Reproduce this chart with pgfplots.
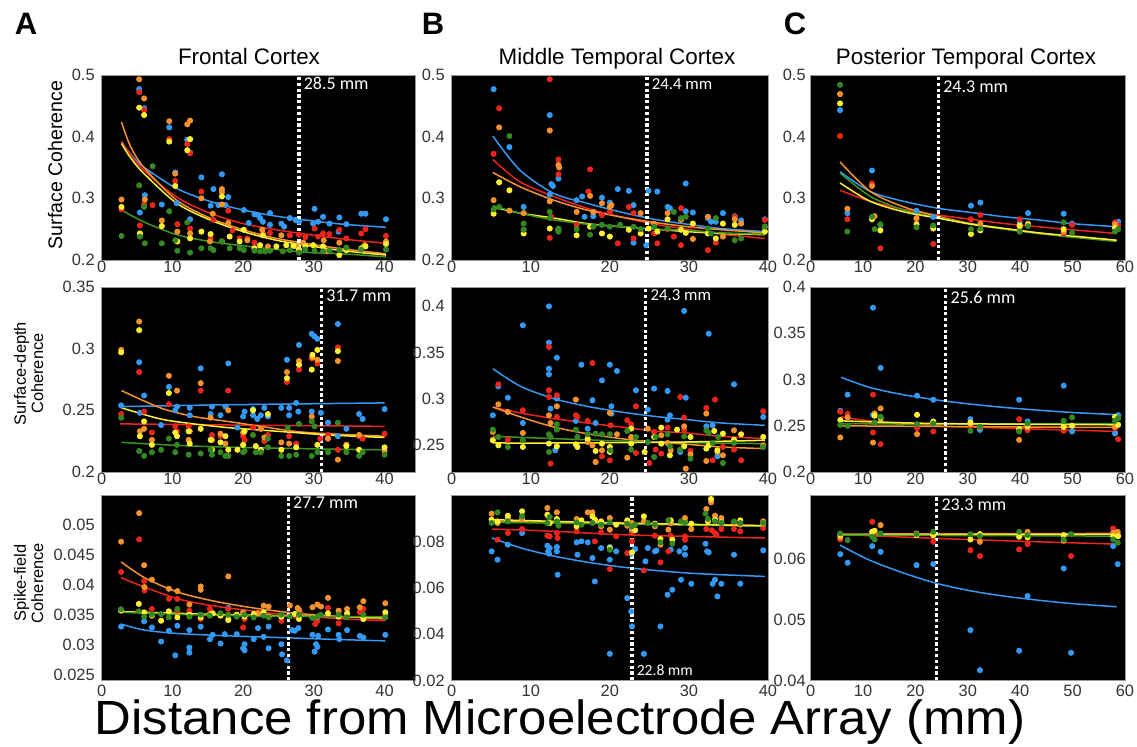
\documentclass[border=0pt]{standalone}
\usepackage{fontspec}
\setmainfont{Liberation Sans}
\newfontfamily\carl{Carlito}
\usepackage{pgfplots}
\pgfplotsset{compat=1.18}
\definecolor{cB}{RGB}{51,153,245}
\definecolor{cR}{RGB}{236,36,30}
\definecolor{cO}{RGB}{245,146,45}
\definecolor{cY}{RGB}{255,240,50}
\definecolor{cG}{RGB}{52,135,34}
\definecolor{cGl}{RGB}{62,150,30}
\pgfplotsset{
  panel/.style={scale only axis, anchor=south west,
    axis background/.style={fill=black},
    axis line style={black!40, line width=0.4pt},
    major tick length=0pt, tick style={draw=none},
    ticklabel style={font=\fontsize{8.2}{9}\selectfont, text=black!80},
    /pgf/number format/assume math mode=true,
    scaled ticks=false,
    yticklabel style={/pgf/number format/fixed, /pgf/number format/precision=3},
    xticklabel style={yshift=1pt, inner sep=1.5pt},
    xmin=0, enlargelimits=false},
  colC/.style={yticklabel style={xshift=1pt}},
  rowthree/.style={xticklabel style={yshift=-1.5pt}},
  P/.style={only marks, mark=*, mark size=1.3pt, color=#1, mark options={draw=none}},
  F/.style={no markers, smooth, line width=0.75pt, color=#1},
  D/.style={white, line width=1.6pt, dash pattern=on 1.6pt off 1.3pt},
}
\tikzset{L/.style={anchor=base west, inner sep=0pt, xshift=2.2pt, text=white, font=\carl\fontsize{9}{10}\selectfont}}
\begin{document}
\begin{tikzpicture}
\useasboundingbox (0,0) rectangle (568.5pt,373.5pt);
% ---------------- letters and titles
\node[anchor=base, font=\fontsize{15.5}{16}\selectfont\bfseries] at (13pt,356pt) {A};
\node[anchor=base, font=\fontsize{15.5}{16}\selectfont\bfseries] at (216.5pt,356pt) {B};
\node[anchor=base, font=\fontsize{15.5}{16}\selectfont\bfseries] at (397.5pt,356pt) {C};
\node[anchor=base, font=\fontsize{11.2}{13}\selectfont] at (124.5pt,341pt) {Frontal Cortex};
\node[anchor=base, font=\fontsize{11.2}{13}\selectfont] at (308.5pt,341pt) {Middle Temporal Cortex};
\node[anchor=base, font=\fontsize{11.2}{13}\selectfont] at (483pt,341pt) {Posterior Temporal Cortex};
\node[rotate=90, font=\fontsize{9.8}{11}\selectfont] at (27.5pt,291pt) {Surface Coherence};
\node[rotate=90, align=center, font=\fontsize{8.2}{8.6}\selectfont] at (14.3pt,186.7pt) {Surface-depth\\Coherence};
\node[rotate=90, align=center, font=\fontsize{8.2}{8.6}\selectfont] at (14.3pt,82pt) {Spike-field\\Coherence};
\node[anchor=base, inner sep=0pt, xscale=1.06, transform shape, font=\fontsize{24}{26}\selectfont] at (280pt,6pt) {Distance from Microelectrode Array (mm)};

% ================= A1
\begin{axis}[panel, at={(50.85pt,243.5pt)}, width=156.65pt, height=92.5pt, xmax=44.3, ymin=0.2, ymax=0.5, xtick={0,10,20,30,40}, ytick={0.2,0.3,0.4,0.5}]
\addplot[P=cB] coordinates {(5.3,0.477) (6.0,0.446) (9.55,0.415) (12.1,0.395) (12.5,0.374) (10.4,0.342) (14.1,0.334) (15.8,0.315) (17.0,0.339) (17.9,0.302) (5.4,0.277) (6.1,0.305) (8.5,0.29) (10.6,0.292) (12.5,0.266) (15.4,0.288) (16.5,0.289) (17.5,0.289) (20.1,0.281) (21.6,0.274) (22.1,0.273) (22.4,0.268) (23.8,0.276) (23.8,0.257) (25.4,0.259) (25.8,0.254) (26.6,0.268) (27.4,0.265) (27.9,0.262) (30.1,0.283) (29.9,0.259) (30.6,0.262) (31.3,0.27) (32.2,0.259) (33.6,0.269) (33.5,0.246) (34.6,0.258) (36.7,0.275) (37.3,0.275) (40.2,0.266) (20.8,0.26) (22.8,0.262)};
\addplot[P=cR] coordinates {(2.8,0.282) (5.3,0.472) (6.0,0.443) (5.4,0.256) (7.2,0.289) (9.55,0.396) (10.4,0.328) (10.7,0.258) (12.1,0.388) (12.5,0.373) (12.5,0.251) (14.1,0.311) (15.4,0.235) (15.8,0.265) (17.9,0.28) (20.6,0.235) (21.6,0.228) (22.8,0.243) (23.8,0.244) (26.6,0.24) (27.9,0.241) (28.8,0.237) (30.1,0.251) (30.6,0.238) (31.3,0.243) (32.2,0.242) (33.6,0.249) (34.6,0.235) (36.7,0.243) (37.3,0.25) (40.2,0.239) (19.5,0.235) (18.5,0.248) (6.0,0.29)};
\addplot[P=cO] coordinates {(2.8,0.298) (5.3,0.493) (6.0,0.462) (9.55,0.425) (12.1,0.42) (12.5,0.426) (10.4,0.34) (8.5,0.264) (10.7,0.246) (12.5,0.243) (14.1,0.30) (17.0,0.315) (17.0,0.29) (17.0,0.31) (15.7,0.275) (17.9,0.26) (20.6,0.232) (22.7,0.249) (25.4,0.24) (28.5,0.228) (31.4,0.232) (33.6,0.228) (37.2,0.224) (40.2,0.23) (6.1,0.298) (5.4,0.24) (15.3,0.23) (23.5,0.222) (27.5,0.222) (31.9,0.214) (34.6,0.218)};
\addplot[P=cY] coordinates {(2.8,0.286) (5.3,0.447) (6.0,0.435) (5.4,0.243) (8.5,0.255) (9.55,0.392) (10.4,0.32) (10.7,0.23) (12.1,0.378) (12.5,0.396) (12.5,0.235) (14.1,0.246) (15.4,0.242) (17.0,0.303) (17.0,0.23) (18.1,0.238) (19.5,0.23) (20.1,0.249) (21.6,0.219) (22.4,0.224) (22.8,0.24) (24.7,0.222) (26.1,0.224) (27.1,0.223) (27.9,0.217) (28.8,0.222) (29.9,0.224) (31.3,0.222) (33.6,0.208) (34.6,0.216) (36.7,0.219) (37.3,0.222) (40.2,0.226)};
\addplot[P=cG] coordinates {(2.8,0.239) (5.3,0.321) (5.4,0.238) (6.1,0.227) (6.0,0.286) (7.2,0.352) (8.5,0.227) (9.55,0.279) (10.4,0.232) (10.7,0.215) (12.1,0.261) (12.5,0.212) (14.1,0.219) (15.4,0.219) (15.8,0.216) (17.0,0.23) (18.1,0.219) (19.5,0.219) (20.1,0.216) (21.6,0.215) (22.4,0.214) (23.1,0.214) (23.8,0.215) (25.6,0.214) (26.6,0.216) (27.9,0.212) (28.8,0.217) (30.1,0.215) (31.3,0.214) (32.2,0.215) (33.6,0.216) (34.6,0.22) (36.7,0.217) (40.2,0.217)};
\addplot[F=cB] coordinates {(2.8,0.392) (4,0.373) (5.9,0.351) (10.6,0.316) (15.3,0.295) (20,0.281) (24.7,0.271) (29.4,0.264) (34.1,0.258) (40.2,0.253)};
\addplot[F=cR] coordinates {(2.8,0.392) (4,0.372) (5.9,0.346) (10.6,0.302) (15.3,0.276) (20,0.259) (24.7,0.249) (29.4,0.241) (34.1,0.234) (40.2,0.227)};
\addplot[F=cO] coordinates {(2.8,0.424) (4,0.386) (5.9,0.351) (10.6,0.297) (15.3,0.268) (20,0.249) (24.7,0.235) (29.4,0.226) (34.1,0.218) (40.2,0.21)};
\addplot[F=cY] coordinates {(2.8,0.389) (4,0.367) (5.9,0.341) (10.6,0.292) (15.3,0.265) (20,0.246) (24.7,0.232) (29.4,0.223) (34.1,0.215) (40.2,0.208)};
\addplot[F=cGl] coordinates {(2.8,0.281) (5.9,0.262) (10.6,0.241) (15.3,0.23) (20,0.223) (24.7,0.217) (29.4,0.212) (34.1,0.21) (40.2,0.205)};
\addplot[D] coordinates {(27.9,0.2) (27.9,0.5)};
\node[L] at (axis cs:27.9,0.4765) {28.5 mm};
\end{axis}

% ================= B1
\begin{axis}[panel, at={(225.85pt,243.5pt)}, width=158.15pt, height=92.5pt, xmax=40, ymin=0.2, ymax=0.5, xtick={0,10,20,30,40}, ytick={0.2,0.3,0.4,0.5}]
\addplot[P=cB] coordinates {(5.3,0.477) (7.3,0.383) (9.1,0.286) (12.4,0.435) (12.4,0.306) (12.6,0.323) (13.5,0.332) (15.8,0.297) (16.5,0.303) (17.9,0.271) (19.0,0.301) (20.0,0.293) (21.0,0.315) (22.4,0.312) (23.0,0.289) (23.0,0.228) (24.6,0.224) (24.9,0.312) (26.0,0.311) (27.3,0.286) (27.6,0.284) (29.6,0.324) (29.6,0.279) (30.5,0.277) (32.4,0.268) (32.8,0.262) (33.4,0.262) (34.3,0.276) (35.8,0.271) (36.6,0.264) (39.6,0.266) (16.8,0.27) (12.8,0.32)};
\addplot[P=cR] coordinates {(5.3,0.372) (6.0,0.446) (12.4,0.493) (12.4,0.236) (13.5,0.363) (13.5,0.339) (17.5,0.347) (17.3,0.311) (19.0,0.273) (20.0,0.278) (21.0,0.227) (22.4,0.286) (23.0,0.276) (23.0,0.235) (25.6,0.243) (26.0,0.227) (28.1,0.238) (29.0,0.284) (29.0,0.224) (30.5,0.257) (32.4,0.216) (33.4,0.228) (35.8,0.27) (39.6,0.265) (9.1,0.249) (15.8,0.257) (12.6,0.27) (27.3,0.25)};
\addplot[P=cO] coordinates {(5.3,0.297) (6.0,0.415) (7.3,0.28) (9.1,0.276) (12.4,0.41) (12.4,0.295) (13.5,0.354) (13.6,0.35) (15.8,0.278) (17.5,0.304) (17.9,0.278) (19.0,0.292) (20.0,0.286) (20.2,0.289) (23.9,0.276) (25.6,0.259) (27.3,0.276) (29.0,0.265) (30.5,0.234) (32.4,0.27) (34.3,0.238) (35.8,0.266) (36.6,0.259) (39.6,0.254)};
\addplot[P=cY] coordinates {(5.3,0.275) (6.0,0.326) (7.3,0.313) (9.1,0.243) (12.4,0.251) (13.5,0.249) (15.8,0.24) (17.5,0.254) (19.0,0.243) (20.0,0.238) (22.4,0.249) (23.9,0.243) (24.9,0.251) (26.0,0.246) (27.3,0.266) (29.0,0.249) (29.6,0.244) (30.5,0.259) (32.4,0.243) (33.4,0.235) (34.3,0.259) (35.8,0.257) (39.6,0.246)};
\addplot[P=cG] coordinates {(5.3,0.282) (6.0,0.286) (7.3,0.401) (9.1,0.259) (9.1,0.249) (12.4,0.278) (12.4,0.268) (13.5,0.251) (13.5,0.246) (15.8,0.25) (17.5,0.241) (17.9,0.254) (19.0,0.257) (20.0,0.254) (21.3,0.257) (23.0,0.254) (23.9,0.25) (25.6,0.254) (27.3,0.251) (28.1,0.278) (29.0,0.268) (29.6,0.27) (32.4,0.251) (32.8,0.243) (33.4,0.268) (35.8,0.232) (36.6,0.235) (39.6,0.254)};
\addplot[F=cB] coordinates {(5.2,0.401) (8.6,0.346) (12.9,0.308) (17.1,0.292) (21.3,0.278) (25.6,0.266) (29.8,0.258) (34.1,0.251) (39.6,0.246)};
\addplot[F=cR] coordinates {(5.2,0.363) (8.6,0.327) (12.9,0.303) (17.1,0.284) (21.3,0.27) (25.6,0.258) (29.8,0.25) (34.1,0.242) (39.6,0.235)};
\addplot[F=cO] coordinates {(5.2,0.342) (8.6,0.319) (12.9,0.297) (17.1,0.281) (21.3,0.27) (25.6,0.261) (29.8,0.254) (34.1,0.249) (39.6,0.244)};
\addplot[F=cY] coordinates {(5.2,0.286) (8.6,0.276) (12.9,0.268) (17.1,0.259) (21.3,0.254) (25.6,0.25) (29.8,0.246) (34.1,0.243) (39.6,0.241)};
\addplot[F=cGl] coordinates {(5.2,0.288) (8.6,0.276) (12.9,0.265) (17.1,0.258) (21.3,0.254) (25.6,0.25) (29.8,0.248) (34.1,0.244) (39.6,0.242)};
\addplot[D] coordinates {(24.7,0.2) (24.7,0.5)};
\node[L, font=\carl\fontsize{8.4}{10}\selectfont] at (axis cs:24.7,0.4765) {24.4 mm};
\end{axis}

% ================= C1
\begin{axis}[panel, colC, at={(405.35pt,243.5pt)}, width=157.15pt, height=92.5pt, xmax=60, ymin=0.2, ymax=0.5, xtick={0,10,20,30,40,50,60}, ytick={0.2,0.3,0.4,0.5}]
\addplot[P=cB] coordinates {(5.6,0.443) (7.0,0.276) (11.7,0.345) (13.3,0.257) (20.2,0.28) (23.4,0.27) (30.6,0.288) (32.4,0.293) (39.9,0.261) (41.5,0.276) (48.3,0.275) (49.9,0.259) (58.7,0.262)};
\addplot[P=cR] coordinates {(5.6,0.401) (7.0,0.266) (11.7,0.324) (13.3,0.219) (20.2,0.266) (23.4,0.226) (30.6,0.266) (32.4,0.273) (39.9,0.266) (41.5,0.258) (48.3,0.243) (49.9,0.257) (58.1,0.261) (58.7,0.256)};
\addplot[P=cO] coordinates {(5.6,0.469) (7.0,0.283) (11.7,0.32) (12.2,0.271) (20.2,0.268) (23.4,0.254) (32.4,0.259) (39.9,0.254) (41.5,0.259) (48.3,0.246) (58.1,0.258)};
\addplot[P=cY] coordinates {(5.6,0.454) (11.7,0.266) (13.3,0.248) (20.2,0.258) (23.4,0.251) (30.6,0.242) (32.4,0.248) (39.9,0.256) (41.5,0.257) (48.3,0.25) (58.1,0.252)};
\addplot[P=cG] coordinates {(5.6,0.484) (7.0,0.246) (11.7,0.27) (12.2,0.25) (13.3,0.258) (20.2,0.253) (23.4,0.256) (30.6,0.25) (32.4,0.251) (39.9,0.246) (41.5,0.255) (48.3,0.261) (49.9,0.244) (58.1,0.246) (58.7,0.25)};
\addplot[F=cB] coordinates {(5.6,0.343) (11.4,0.311) (17.8,0.295) (24.2,0.284) (30.6,0.277) (37,0.27) (43.4,0.265) (49.8,0.259) (58.4,0.254)};
\addplot[F=cR] coordinates {(5.6,0.313) (11.4,0.295) (17.8,0.282) (24.2,0.273) (30.6,0.266) (37,0.259) (43.4,0.254) (49.8,0.249) (58.4,0.243)};
\addplot[F=cO] coordinates {(5.6,0.359) (11.4,0.311) (17.8,0.286) (24.2,0.271) (30.6,0.259) (37,0.251) (43.4,0.244) (49.8,0.238) (58.4,0.232)};
\addplot[F=cGl] coordinates {(5.6,0.341) (11.4,0.303) (17.8,0.281) (24.2,0.269) (30.6,0.258) (37,0.25) (43.4,0.243) (49.8,0.237) (58.4,0.23)};
\addplot[F=cY] coordinates {(5.6,0.325) (11.4,0.295) (17.8,0.278) (24.2,0.268) (30.6,0.258) (37,0.251) (43.4,0.244) (49.8,0.239) (58.4,0.232)};
\addplot[D] coordinates {(24.4,0.2) (24.4,0.5)};
\node[L] at (axis cs:24.4,0.472) {24.3 mm};
\end{axis}

% ================= A2
\begin{axis}[panel, at={(50.85pt,137.5pt)}, width=156.65pt, height=92.5pt, xmax=44.3, ymin=0.2, ymax=0.35, xtick={0,10,20,30,40}, ytick={0.2,0.25,0.3,0.35}]
\addplot[P=cB] coordinates {(2.75,0.254) (5.3,0.289) (5.4,0.248) (6.0,0.262) (8.4,0.238) (9.5,0.269) (10.4,0.25) (10.65,0.253) (12.45,0.246) (12.45,0.252) (14,0.284) (15.4,0.247) (15.6,0.253) (16.8,0.246) (17.5,0.253) (17.9,0.288) (19.2,0.236) (20,0.245) (20.2,0.249) (21.4,0.246) (21.4,0.251) (22,0.243) (22.5,0.246) (23,0.252) (23.5,0.245) (25.4,0.252) (26.2,0.291) (26.5,0.246) (26.5,0.252) (27.5,0.256) (27.8,0.249) (27.9,0.303) (29.7,0.312) (30.1,0.31) (30.5,0.308) (29.7,0.249) (31,0.248) (32,0.24) (33.4,0.32) (33.4,0.229) (34.6,0.235) (36.4,0.247) (36.9,0.243) (40,0.251)};
\addplot[P=cR] coordinates {(2.75,0.247) (5.3,0.281) (6.0,0.249) (7.1,0.232) (9.5,0.255) (10.4,0.237) (10.65,0.233) (12.3,0.237) (14,0.266) (15.6,0.23) (16.8,0.229) (17.9,0.266) (20,0.229) (20.2,0.226) (21.4,0.236) (22.5,0.235) (23,0.225) (23.5,0.23) (26.2,0.273) (26.5,0.229) (27.5,0.223) (27.9,0.283) (29.7,0.292) (30.5,0.288) (30.9,0.227) (32,0.23) (33.4,0.301) (33.4,0.218) (34.6,0.222) (36.4,0.229) (36.9,0.227) (40,0.231)};
\addplot[P=cO] coordinates {(2.75,0.299) (5.3,0.322) (5.4,0.233) (6.0,0.235) (7.1,0.226) (9.5,0.278) (10.65,0.266) (12.3,0.226) (12.45,0.233) (14,0.272) (15.4,0.244) (15.6,0.226) (16.8,0.231) (17.5,0.223) (17.9,0.25) (20,0.232) (22.5,0.235) (23,0.228) (25.4,0.224) (26.2,0.281) (26.5,0.223) (27.9,0.29) (29.7,0.245) (29.8,0.293) (30.5,0.291) (32,0.227) (33.4,0.29) (33.4,0.21) (34.6,0.222) (36.4,0.23) (40,0.217)};
\addplot[P=cY] coordinates {(2.75,0.297) (5.3,0.315) (5.4,0.229) (6.0,0.241) (7.1,0.222) (9.5,0.264) (10.4,0.232) (10.65,0.229) (12.3,0.233) (12.45,0.223) (14,0.235) (15.4,0.226) (15.6,0.218) (16.8,0.224) (17.5,0.229) (17.9,0.218) (19.2,0.218) (20,0.222) (20.2,0.233) (21.4,0.25) (21.8,0.221) (22.5,0.218) (23.5,0.247) (25.4,0.218) (26.2,0.276) (27.5,0.22) (27.9,0.287) (29.7,0.283) (29.8,0.295) (30.5,0.299) (30.5,0.222) (33.4,0.298) (34.6,0.221) (36.4,0.218) (40,0.22)};
\addplot[P=cG] coordinates {(2.75,0.244) (5.3,0.217) (6.0,0.213) (7.1,0.216) (8.4,0.218) (9.5,0.227) (10.4,0.216) (10.65,0.222) (12.3,0.214) (14,0.215) (15.4,0.218) (15.6,0.214) (16.8,0.216) (17.5,0.213) (17.9,0.213) (20,0.216) (20.2,0.217) (21.4,0.23) (21.8,0.216) (22.5,0.216) (23.5,0.22) (23.5,0.227) (25.4,0.213) (26.3,0.236) (26.5,0.213) (27.5,0.214) (27.9,0.239) (29.7,0.241) (29.7,0.213) (30.1,0.237) (30.5,0.216) (32,0.216) (33.4,0.24) (34.6,0.216) (36.4,0.213) (36.9,0.216) (40,0.214)};
\addplot[F=cB] coordinates {(2.6,0.253) (17.8,0.2545) (40,0.256)};
\addplot[F=cR] coordinates {(2.6,0.239) (20,0.238) (40,0.237)};
\addplot[F=cO] coordinates {(2.8,0.266) (8.3,0.252) (13,0.245) (17.8,0.241) (22.5,0.237) (27.2,0.233) (32,0.231) (40,0.229)};
\addplot[F=cY] coordinates {(2.8,0.252) (8.3,0.243) (13,0.239) (17.8,0.236) (22.5,0.234) (27.2,0.232) (32,0.23) (40,0.228)};
\addplot[F=cGl] coordinates {(2.8,0.224) (13,0.221) (27.2,0.219) (40,0.218)};
\addplot[D] coordinates {(31.1,0.2) (31.1,0.35)};
\node[L] at (axis cs:31.1,0.338) {31.7 mm};
\end{axis}

% ================= B2
\begin{axis}[panel, at={(225.85pt,137.5pt)}, width=158.15pt, height=92.5pt, xmax=40, ymin=0.2212, ymax=0.4209, xtick={0,10,20,30,40}, ytick={0.25,0.3,0.35,0.4}]
\addplot[P=cB] coordinates {(5.2,0.2824) (5.9,0.3137) (7.1,0.3014) (9.0,0.3795) (9.0,0.2741) (12.3,0.40) (12.3,0.3608) (12.3,0.3327) (12.3,0.3266) (12.5,0.2896) (13.1,0.2446) (13.3,0.3446) (13.3,0.3004) (15.7,0.2763) (16.4,0.337) (17.2,0.268) (17.8,0.2986) (18.2,0.2741) (19.0,0.3201) (20.0,0.337) (20.2,0.2921) (20.2,0.2842) (20.9,0.3302) (23.3,0.3094) (24.8,0.2885) (25.6,0.3112) (27.3,0.3086) (27.3,0.2777) (27.6,0.2824) (28.9,0.2428) (29.4,0.395) (29.6,0.3014) (32.2,0.2705) (32.5,0.3705) (33,0.2716) (33.6,0.2381) (35.7,0.3158) (39.4,0.2806)};
\addplot[P=cR] coordinates {(5.2,0.2561) (5.9,0.3158) (7.1,0.2561) (9.0,0.2878) (12.3,0.3561) (12.3,0.3094) (12.3,0.3022) (12.5,0.2302) (13.3,0.304) (13.3,0.2806) (15.7,0.2824) (15.9,0.2806) (17.2,0.2763) (17.8,0.3388) (18.2,0.232) (19.0,0.2381) (20.0,0.2338) (20.1,0.2716) (22.2,0.277) (22.7,0.2727) (23.3,0.2921) (23.3,0.2417) (25.0,0.2309) (25.6,0.2644) (25.8,0.2453) (26.5,0.241) (27.3,0.2691) (28.9,0.3022) (29.4,0.2799) (29.4,0.2669) (30.2,0.2439) (32.2,0.2903) (33,0.2338) (33.3,0.2993) (34.3,0.2482) (35.7,0.2453) (36.6,0.2338) (39.4,0.2867)};
\addplot[P=cO] coordinates {(5.2,0.2644) (5.9,0.2942) (7.1,0.286) (9.0,0.2633) (12.3,0.2824) (12.5,0.2741) (13.3,0.2921) (15.7,0.2993) (17.2,0.2536) (17.8,0.25) (18.2,0.232) (19,0.2446) (20.0,0.2849) (20.9,0.2619) (22.2,0.2367) (22.7,0.259) (24.8,0.268) (26.5,0.2608) (27.3,0.2525) (27.7,0.2446) (29.4,0.2705) (29.6,0.2248) (30.2,0.2403) (32.2,0.2842) (32.2,0.2331) (33.6,0.2428) (34.3,0.2392) (35.7,0.2662) (39.4,0.25)};
\addplot[P=cY] coordinates {(5.2,0.2554) (5.9,0.25) (9.0,0.2482) (12.3,0.2518) (13.3,0.2489) (15.7,0.2511) (15.9,0.2482) (17.2,0.2572) (18.2,0.2439) (19,0.2518) (20,0.2482) (20,0.2428) (22.7,0.268) (22.7,0.2518) (24.4,0.2428) (25.6,0.259) (26.5,0.2691) (26.5,0.2518) (27.6,0.2392) (28.5,0.2669) (29.4,0.2489) (30.2,0.259) (32.2,0.2464) (32.5,0.25) (33.2,0.2655) (33.6,0.2446) (34.3,0.2626) (35.7,0.2561) (36.6,0.2619) (39.4,0.259)};
\addplot[P=cG] coordinates {(5.2,0.2669) (5.9,0.259) (7.1,0.2482) (9.0,0.2554) (12.3,0.2619) (12.3,0.2428) (12.5,0.259) (13.3,0.2727) (13.3,0.2669) (15.7,0.2669) (15.9,0.259) (17.2,0.2619) (18.2,0.2626) (19.0,0.2619) (20,0.2619) (20.1,0.2446) (22.2,0.2655) (22.7,0.2453) (23.3,0.259) (24.8,0.2536) (25.6,0.2374) (25.8,0.259) (27.3,0.2619) (27.6,0.2489) (28.9,0.2453) (29.4,0.2597) (30.2,0.2356) (32.2,0.2662) (32.5,0.2633) (33,0.2525) (33.7,0.259) (34.3,0.2309) (35.7,0.2525) (39.4,0.2482)};
\addplot[F=cB] coordinates {(5.2,0.3327) (8.7,0.3137) (12.9,0.3004) (17.1,0.2921) (21.4,0.286) (25.6,0.2813) (29.8,0.2777) (34.1,0.2741) (39.6,0.2716)};
\addplot[F=cR] coordinates {(5.2,0.2914) (8.7,0.2849) (12.9,0.2788) (17.1,0.2741) (21.4,0.2698) (25.6,0.2655) (29.8,0.2633) (34.1,0.2597) (39.6,0.2572)};
\addplot[F=cO] coordinates {(5.2,0.2914) (8.7,0.2806) (12.9,0.2698) (17.1,0.2626) (21.4,0.2572) (25.6,0.2536) (29.8,0.2511) (34.1,0.2482) (39.6,0.2464)};
\addplot[F=cGl] coordinates {(5.2,0.2597) (12.9,0.2572) (21.4,0.2547) (29.8,0.2529) (39.6,0.2518)};
\addplot[F=cY] coordinates {(5.2,0.2525) (12.9,0.2525) (21.4,0.2529) (29.8,0.2536) (39.6,0.2554)};
\addplot[D] coordinates {(24.55,0.2212) (24.55,0.4209)};
\node[L, font=\carl\fontsize{8.4}{10}\selectfont] at (axis cs:24.55,0.406) {24.3 mm};
\end{axis}

% ================= C2
\begin{axis}[panel, colC, at={(405.35pt,137.5pt)}, width=157.15pt, height=92.5pt, xmax=60, ymin=0.2, ymax=0.4, xtick={0,10,20,30,40,50,60}, ytick={0.2,0.25,0.3,0.35,0.4}]
\addplot[P=cB] coordinates {(5.65,0.2662) (7.05,0.2836) (11.9,0.3776) (11.9,0.2618) (13.35,0.3125) (20.3,0.2825) (23.4,0.2781) (30.5,0.2571) (32.3,0.2456) (39.8,0.2781) (41.4,0.2546) (48.3,0.2933) (49.9,0.2438) (58.1,0.2416) (58.7,0.2615)};
\addplot[P=cR] coordinates {(5.65,0.2651) (7.05,0.2626) (11.9,0.2836) (11.9,0.2427) (13.35,0.23) (20.3,0.2474) (23.4,0.2438) (30.5,0.2499) (39.8,0.2571) (41.4,0.2452) (48.3,0.2445) (58.1,0.2474) (58.7,0.2354)};
\addplot[P=cO] coordinates {(5.65,0.2373) (7.05,0.259) (11.9,0.2318) (12.2,0.2633) (13.35,0.2687) (20.3,0.2409) (23.4,0.2535) (30.5,0.2517) (32.3,0.2481) (39.8,0.2347) (41.4,0.2481) (48.3,0.2488) (58.1,0.2488)};
\addplot[P=cY] coordinates {(5.65,0.2561) (12.2,0.2608) (13.35,0.2582) (20.3,0.2618) (23.4,0.2546) (30.5,0.2535) (39.8,0.2463) (41.4,0.2499) (48.3,0.2488) (49.9,0.2499) (58.1,0.2597) (58.7,0.251)};
\addplot[P=cG] coordinates {(5.65,0.251) (7.05,0.2499) (12.2,0.2535) (13.35,0.2597) (20.3,0.2517) (23.4,0.2524) (30.5,0.2445) (32.3,0.2488) (39.8,0.2438) (41.4,0.2524) (48.3,0.2553) (49.9,0.259) (58.1,0.2553) (58.7,0.2582)};
\addplot[F=cB] coordinates {(5.8,0.3024) (11.2,0.2915) (17.6,0.2836) (24.1,0.2778) (30.5,0.2734) (36.9,0.2698) (43.3,0.2669) (49.7,0.2644) (58.7,0.2619)};
\addplot[F=cR] coordinates {(5.8,0.2597) (11.2,0.2553) (24.1,0.2499) (36.9,0.2474) (58.7,0.2438)};
\addplot[F=cO] coordinates {(5.8,0.2499) (30,0.249) (58.7,0.2481)};
\addplot[F=cGl] coordinates {(5.8,0.2524) (24.1,0.2517) (58.7,0.2524)};
\addplot[F=cY] coordinates {(5.8,0.2553) (24.1,0.2524) (58.7,0.251)};
\addplot[D] coordinates {(25.8,0.2) (25.8,0.4)};
\node[L] at (axis cs:25.8,0.382) {25.6 mm};
\end{axis}

% ================= A3
\begin{axis}[panel, rowthree, at={(50.85pt,33.25pt)}, width=156.65pt, height=92.75pt, xmax=44.3, ymin=0.024, ymax=0.055, xtick={0,10,20,30,40}, ytick={0.025,0.03,0.035,0.04,0.045,0.05}]
\addplot[P=cB] coordinates {(2.74,0.033) (6.0,0.03388) (7.1,0.03287) (8.4,0.03051) (9.5,0.0323) (10.4,0.0282) (10.7,0.03315) (12.4,0.0295) (12.4,0.02865) (12.4,0.03242) (14,0.033) (15.3,0.0309) (15.7,0.03163) (16.8,0.03017) (17.4,0.03174) (17.9,0.03612) (19.1,0.03174) (20,0.02938) (20.2,0.03006) (20.2,0.02904) (21.5,0.0309) (22.1,0.03275) (22.9,0.03129) (23.6,0.02938) (23.6,0.033) (25.4,0.03006) (25.5,0.02837) (26.2,0.02736) (26.9,0.03242) (27.3,0.0323) (27.8,0.03275) (29.8,0.03163) (30.1,0.02882) (30.3,0.03006) (30.5,0.02961) (30.6,0.03146) (32,0.03253) (33.5,0.03163) (33.6,0.0309) (34.7,0.03242) (36.5,0.03146) (37,0.03118) (40.1,0.03163)};
\addplot[P=cR] coordinates {(2.74,0.04214) (5.3,0.04758) (6.0,0.04062) (6.05,0.03904) (7.1,0.03596) (9.5,0.03764) (10.7,0.03764) (10.7,0.03567) (12.4,0.03567) (14,0.03427) (15.3,0.03596) (17.9,0.03596) (20,0.03287) (20.2,0.03427) (22.1,0.03539) (23.6,0.03483) (25.4,0.03399) (27.3,0.03483) (28,0.03539) (30.2,0.03343) (30.5,0.03399) (32,0.03612) (33.5,0.03354) (33.5,0.03539) (34.7,0.03483) (36.5,0.03539) (37,0.03596) (40.1,0.03483)};
\addplot[P=cO] coordinates {(2.74,0.04719) (5.3,0.05197) (6.0,0.04326) (6.05,0.03961) (7.1,0.04084) (9.5,0.03933) (10.7,0.03893) (12.4,0.03669) (14,0.03972) (14,0.03916) (15.3,0.03511) (17.9,0.0414) (17.9,0.03427) (20,0.03539) (22.1,0.03523) (22.9,0.03652) (23.6,0.03635) (25.4,0.03483) (26.6,0.03652) (27.7,0.03612) (27.9,0.03579) (29.8,0.03624) (30.5,0.03669) (31,0.03635) (32,0.03781) (33.5,0.03567) (34.7,0.03596) (36.5,0.03624) (37,0.03725) (40.1,0.03691)};
\addplot[P=cY] coordinates {(2.74,0.03567) (5.25,0.0368) (6.0,0.03539) (7.1,0.03483) (8.4,0.03399) (9.5,0.03556) (10.7,0.03455) (12.4,0.035) (14,0.03455) (15.7,0.03523) (16.8,0.03483) (17.9,0.0341) (19.1,0.035) (20.2,0.03466) (21.5,0.03511) (22.9,0.03539) (23.6,0.03466) (25.4,0.03466) (27.3,0.03511) (27.9,0.03427) (29.8,0.03455) (30.5,0.03466) (32,0.03523) (33.5,0.03466) (34.7,0.03523) (37,0.03427) (40.1,0.03539)};
\addplot[P=cG] coordinates {(2.74,0.0359) (5.25,0.03556) (6.0,0.03466) (7.1,0.035) (8.4,0.03511) (9.5,0.03455) (10.7,0.03596) (12.4,0.03466) (14,0.035) (15.3,0.03483) (16.8,0.03523) (17.9,0.035) (19.1,0.03466) (20.2,0.035) (21.5,0.03455) (22.9,0.03483) (23.6,0.03455) (25.4,0.035) (26.6,0.03466) (27.9,0.035) (29.8,0.03444) (30.5,0.03466) (31,0.035) (33.5,0.035) (34.7,0.03455) (37,0.035) (40.1,0.03455)};
\addplot[F=cB] coordinates {(2.74,0.03343) (6.05,0.03242) (10.78,0.03185) (17.9,0.03146) (25,0.03118) (32,0.0309) (40.1,0.03062)};
\addplot[F=cO] coordinates {(2.74,0.04382) (6.05,0.04118) (10.78,0.03876) (15.5,0.03736) (20.2,0.03635) (25,0.03556) (29.7,0.035) (34.4,0.03466) (40.1,0.03427)};
\addplot[F=cR] coordinates {(2.74,0.04118) (6.05,0.03961) (10.78,0.03764) (15.5,0.03652) (20.2,0.03579) (25,0.03511) (29.7,0.03466) (34.4,0.03427) (40.1,0.03399)};
\addplot[F=cY] coordinates {(2.74,0.03551) (17.9,0.035) (40.1,0.03455)};
\addplot[F=cGl] coordinates {(2.74,0.03539) (17.9,0.03483) (40.1,0.03466)};
\addplot[D] coordinates {(26.4,0.024) (26.4,0.055)};
\node[L] at (axis cs:26.4,0.0528) {27.7 mm};
\end{axis}

% ================= B3
\begin{axis}[panel, rowthree, at={(225.85pt,33.25pt)}, width=158.15pt, height=92.75pt, xmax=40, ymin=0.02, ymax=0.1, xtick={0,10,20,30,40}, ytick={0.02,0.04,0.06,0.08}]
\addplot[P=cB] coordinates {(5.05,0.07568) (5.8,0.07209) (7.1,0.07856) (8.9,0.0836) (12.1,0.07813) (12.2,0.07568) (12.3,0.07468) (12.4,0.07712) (13.3,0.07755) (13.3,0.07568) (13.4,0.06561) (15.8,0.07957) (15.9,0.07424) (16.4,0.08) (17.2,0.07957) (17.8,0.0728) (18.1,0.06273) (18.9,0.07712) (20,0.07755) (20,0.07209) (20,0.0315) (20.8,0.07568) (22.2,0.05554) (22.7,0.07468) (22.7,0.04978) (22.8,0.04331) (23.2,0.07669) (24.3,0.0315) (24.5,0.07137) (24.8,0.07712) (25.7,0.07568) (25.9,0.07612) (26.4,0.04331) (27.3,0.05698) (27.7,0.0764) (27.9,0.05914) (28.8,0.07568) (29,0.06345) (29.5,0.07712) (29.5,0.07424) (30.3,0.06172) (32.1,0.07899) (32.3,0.07568) (32.5,0.07525) (33,0.06172) (33.3,0.06345) (33.6,0.05626) (34.1,0.06172) (35.7,0.07424) (36.5,0.06172) (39.4,0.07612)};
\addplot[P=cR] coordinates {(5.8,0.08072) (7.1,0.0836) (8.9,0.08532) (12.1,0.08245) (12.4,0.08216) (13.3,0.0836) (13.4,0.08144) (15.8,0.08432) (18.1,0.08) (18.9,0.08389) (20,0.06806) (20.8,0.08216) (22.2,0.07496) (22.8,0.08389) (22.8,0.08) (24.3,0.06748) (25.7,0.08245) (26.4,0.07093) (27.4,0.07568) (27.7,0.08245) (29.5,0.08216) (29.5,0.08072) (30.3,0.08532) (32.2,0.08532) (32.9,0.08475) (33.3,0.0836) (33.5,0.08288) (34.1,0.08532) (35.7,0.08532) (36.5,0.08432) (39.4,0.08575)};
\addplot[P=cO] coordinates {(5.05,0.09194) (5.8,0.08791) (7.1,0.09007) (8.9,0.08964) (12.1,0.09439) (12.3,0.0905) (13.3,0.09252) (15.8,0.08964) (17.2,0.09252) (17.8,0.09252) (18.1,0.08907) (18.9,0.08648) (20,0.09007) (20,0.08504) (22.2,0.08676) (22.8,0.08791) (22.8,0.08504) (24.3,0.08863) (25.7,0.08648) (26.4,0.07856) (27.4,0.08504) (27.7,0.08791) (29.5,0.09007) (30.3,0.08532) (32.2,0.09396) (32.8,0.09684) (33.3,0.09108) (34.1,0.09007) (35.7,0.0882) (36.5,0.08719) (39.4,0.08863)};
\addplot[P=cY] coordinates {(5.05,0.08935) (5.8,0.08863) (7.1,0.09108) (8.9,0.09295) (12.1,0.09151) (12.4,0.08791) (13.3,0.08964) (15.8,0.08648) (16.4,0.08907) (17.8,0.09079) (18.1,0.08935) (18.9,0.08863) (20,0.07712) (20.8,0.08719) (22.2,0.08907) (22.8,0.07525) (23.2,0.08475) (24.3,0.09079) (25.7,0.08763) (26.4,0.08101) (27.7,0.08907) (27.9,0.08072) (29.5,0.0882) (30.3,0.08763) (32.4,0.08863) (32.8,0.09828) (33.3,0.08935) (34.1,0.0882) (36.5,0.08907) (39.4,0.08763)};
\addplot[P=cG] coordinates {(5.05,0.08791) (5.8,0.09252) (7.1,0.08863) (8.9,0.09079) (12.1,0.08791) (12.4,0.0905) (13.3,0.08863) (13.5,0.08676) (15.8,0.0882) (16.4,0.08719) (17.8,0.08791) (18.9,0.08719) (20,0.0882) (20,0.0764) (22.2,0.08763) (22.8,0.08648) (23.2,0.08719) (24.8,0.08791) (25.7,0.08719) (26.4,0.07957) (27.4,0.08907) (27.9,0.07899) (29,0.08863) (29.5,0.08791) (32.1,0.09194) (32.4,0.08964) (33.3,0.08863) (34.1,0.08791) (35.7,0.08863) (36.5,0.08791) (39.4,0.08791)};
\addplot[F=cB] coordinates {(5.1,0.08144) (8.8,0.07712) (13.1,0.07352) (17.3,0.07093) (21.5,0.06892) (25.7,0.06748) (29.9,0.06633) (34.1,0.06561) (39.6,0.06489)};
\addplot[F=cR] coordinates {(5.1,0.08532) (13.1,0.08432) (21.5,0.08288) (29.9,0.08216) (39.6,0.08144)};
\addplot[F=cO] coordinates {(5.1,0.08863) (21.5,0.08763) (39.6,0.08676)};
\addplot[F=cGl] coordinates {(5.1,0.0882) (21.5,0.08748) (39.6,0.08648)};
\addplot[F=cY] coordinates {(5.1,0.08935) (21.5,0.08791) (39.6,0.08676)};
\addplot[D] coordinates {(22.8,0.02) (22.8,0.1)};
\node[L, font=\carl\fontsize{7.8}{9}\selectfont] at (axis cs:22.8,0.0221) {22.8 mm};
\end{axis}

% ================= C3
\begin{axis}[panel, colC, rowthree, at={(405.35pt,33.25pt)}, width=157.15pt, height=92.75pt, xmax=60, ymin=0.04, ymax=0.0704, xtick={0,10,20,30,40,50,60}, ytick={0.04,0.05,0.06}]
\addplot[P=cB] coordinates {(5.65,0.06071) (7.05,0.05929) (11.75,0.06202) (13.35,0.06109) (20.2,0.05891) (23.4,0.05907) (30.5,0.04825) (32.3,0.04169) (39.8,0.04487) (41.4,0.05383) (48.3,0.05836) (49.7,0.04454) (57.75,0.06202) (58.6,0.05907)};
\addplot[P=cR] coordinates {(5.65,0.06311) (11.75,0.06601) (12.2,0.06421) (23.4,0.06273) (30.5,0.06137) (32.3,0.06038) (39.8,0.06148) (41.4,0.06235) (49.7,0.06038) (57.75,0.06492) (58.6,0.0641)};
\addplot[P=cO] coordinates {(5.65,0.06344) (11.75,0.06437) (13.35,0.06546) (20.2,0.0641) (23.4,0.0641) (32.3,0.06273) (41.4,0.06437) (48.3,0.0629) (57.75,0.06421) (58.6,0.06437)};
\addplot[P=cY] coordinates {(5.65,0.06382) (11.75,0.06437) (12.2,0.06453) (20.2,0.06382) (23.4,0.06382) (30.5,0.06311) (32.3,0.06399) (39.8,0.06355) (41.4,0.06344) (48.3,0.06382) (57.75,0.06366) (58.7,0.06366)};
\addplot[P=cG] coordinates {(5.65,0.0641) (7.05,0.063) (11.75,0.06355) (12.2,0.06311) (13.35,0.0641) (20.2,0.06399) (23.4,0.06437) (30.5,0.06399) (32.3,0.06366) (39.8,0.06437) (41.4,0.06382) (48.3,0.06311) (49.7,0.06399) (57.75,0.06311) (58.6,0.06257)};
\addplot[F=cB] coordinates {(5.6,0.06219) (11.2,0.05973) (17.6,0.05765) (24.1,0.0559) (30.5,0.0547) (36.9,0.05383) (43.3,0.05317) (49.7,0.05262) (58.4,0.05208)};
\addplot[F=cR] coordinates {(5.6,0.06393) (24.1,0.06328) (43.3,0.06273) (58.4,0.06235)};
\addplot[F=cO] coordinates {(5.6,0.06399) (58.4,0.0641)};
\addplot[F=cY] coordinates {(5.6,0.06393) (58.4,0.06393)};
\addplot[F=cGl] coordinates {(5.6,0.06382) (58.4,0.06366)};
\addplot[D] coordinates {(24.06,0.04) (24.06,0.0704)};
\node[L] at (axis cs:24.06,0.0678) {23.3 mm};
\end{axis}
\end{tikzpicture}
\end{document}
